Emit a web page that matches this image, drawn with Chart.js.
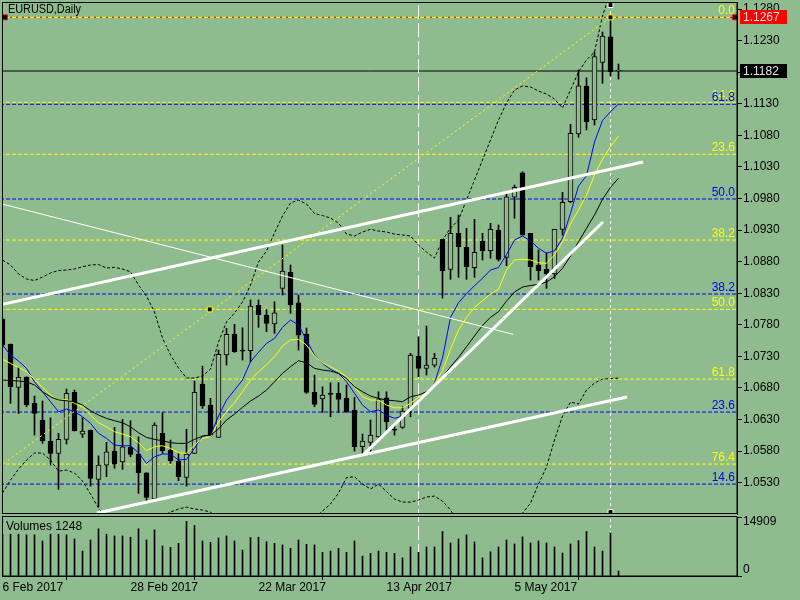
<!DOCTYPE html>
<html>
<head>
<meta charset="utf-8">
<title>EURUSD,Daily</title>
<script src="https://cdn.jsdelivr.net/npm/chart.js@4.4.1/dist/chart.umd.min.js"></script>
<style>
    html, body { margin: 0; padding: 0; background: #8fbc8f; }
    body { width: 800px; height: 600px; position: relative; overflow: hidden; }
    canvas { position: absolute; left: 0; }
    #price-chart { top: 0; width: 800px; height: 516px; }
    #volume-chart { top: 516px; width: 800px; height: 84px; }
</style>
</head>
<body>
<canvas id="price-chart" width="800" height="516"></canvas>
<canvas id="volume-chart" width="800" height="84"></canvas>
<script>
'use strict';

// Daily bars, index 0 = 6 Feb 2017 (one bar per trading day)
const opens = [
    1.07892, 1.07496, 1.06810, 1.06968, 1.06556, 1.06292, 1.05959, 1.05764, 1.05986, 1.06731,
    1.06070, 1.06134, 1.05353, 1.05579, 1.05801, 1.05631, 1.05860, 1.05753, 1.05457, 1.05041,
    1.06081, 1.05817, 1.05642, 1.05384, 1.05764, 1.06862, 1.06530, 1.06018, 1.07322, 1.07649,
    1.07401, 1.07390, 1.08109, 1.07955, 1.07813, 1.08378, 1.08632, 1.08150, 1.07654, 1.06731,
    1.06625, 1.06720, 1.06715, 1.06636, 1.06450, 1.05869, 1.05939, 1.06027, 1.06645, 1.06134,
    1.06176, 1.06477, 1.07306, 1.07111, 1.07163, 1.09154, 1.08679, 1.09249, 1.09028, 1.08704,
    1.09127, 1.08974, 1.09302, 1.08869, 1.09820, 1.10209, 1.09249, 1.08747, 1.08679, 1.08605,
    1.09313, 1.09750, 1.10822, 1.11582, 1.11044, 1.11958, 1.12363, 1.11820
];
const highs = [
    1.07908, 1.07496, 1.07127, 1.06978, 1.06672, 1.06593, 1.06328, 1.06081, 1.06783, 1.06767,
    1.06328, 1.06134, 1.05726, 1.05939, 1.06176, 1.06303, 1.06281, 1.06027, 1.05457, 1.06249,
    1.06408, 1.05975, 1.05764, 1.06145, 1.06910, 1.07147, 1.06636, 1.07401, 1.07744, 1.07808,
    1.07754, 1.08193, 1.08193, 1.08045, 1.08166, 1.09064, 1.08747, 1.08272, 1.07749, 1.07005,
    1.06819, 1.06883, 1.06883, 1.06846, 1.06652, 1.06070, 1.06292, 1.06740, 1.06740, 1.06240,
    1.06503, 1.07348, 1.07611, 1.07781, 1.07348, 1.09154, 1.09503, 1.09539, 1.09328, 1.09471,
    1.09249, 1.09408, 1.09381, 1.09883, 1.10014, 1.10225, 1.09249, 1.08985, 1.08942, 1.09313,
    1.09899, 1.10976, 1.11836, 1.11714, 1.12126, 1.12438, 1.12670, 1.11931
];
const lows = [
    1.07448, 1.06556, 1.06398, 1.06503, 1.06054, 1.05923, 1.05579, 1.05194, 1.05912, 1.06118,
    1.06018, 1.05246, 1.04919, 1.05394, 1.05527, 1.05511, 1.05711, 1.05131, 1.04998, 1.05025,
    1.05764, 1.05606, 1.05330, 1.05246, 1.05764, 1.06477, 1.06031, 1.06015, 1.07163, 1.07364,
    1.07242, 1.07215, 1.07760, 1.07691, 1.07665, 1.08272, 1.07982, 1.07401, 1.06715, 1.06503,
    1.06414, 1.06344, 1.06414, 1.06414, 1.05801, 1.05737, 1.05764, 1.06018, 1.06134, 1.06054,
    1.06160, 1.06344, 1.06978, 1.07005, 1.07132, 1.08224, 1.08521, 1.08552, 1.08521, 1.08552,
    1.08826, 1.08853, 1.08811, 1.08736, 1.09487, 1.09222, 1.08510, 1.08510, 1.08378, 1.08536,
    1.09222, 1.09734, 1.10770, 1.10886, 1.10965, 1.11625, 1.11741, 1.11693
];
const closes = [
    1.07480, 1.06819, 1.06968, 1.06530, 1.06398, 1.05964, 1.05764, 1.05986, 1.06715, 1.06122,
    1.06118, 1.05368, 1.05579, 1.05790, 1.05595, 1.05869, 1.05749, 1.05457, 1.05068, 1.06213,
    1.05806, 1.05647, 1.05394, 1.05753, 1.06731, 1.06514, 1.06054, 1.07333, 1.07649, 1.07374,
    1.07385, 1.08098, 1.07960, 1.07824, 1.07992, 1.08652, 1.08114, 1.07638, 1.06731, 1.06541,
    1.06688, 1.06700, 1.06620, 1.06423, 1.05869, 1.05959, 1.06054, 1.06620, 1.06265, 1.06130,
    1.06434, 1.07322, 1.07111, 1.07163, 1.07269, 1.08657, 1.09249, 1.09037, 1.08720, 1.08948,
    1.08974, 1.09313, 1.08837, 1.09829, 1.09978, 1.09222, 1.08720, 1.08657, 1.08605, 1.09313,
    1.09740, 1.10833, 1.11587, 1.11017, 1.12047, 1.12375, 1.11809, 1.11820
];
const volumes = [
    10500, 10562, 10562, 10391, 10391, 8859, 10562, 10562, 10391, 9370,
    6306, 9114, 11923, 10562, 10135, 10135, 9796, 11923, 9114, 11667,
    7582, 7243, 8264, 13794, 12773, 8859, 8519, 9625, 10135, 8859,
    6561, 9709, 9796, 8688, 8264, 7838, 6987, 9114, 8009, 7838,
    5966, 6306, 6987, 5966, 8859, 5029, 5711, 6306, 5966, 5711,
    4604, 7327, 5966, 7327, 7327, 11242, 8349, 9370, 10391, 8604,
    4604, 6136, 7327, 9114, 8093, 9880, 8349, 8859, 8349, 7327,
    5795, 8093, 8944, 11242, 7327, 6306, 10902, 1248
];

// Indicator lines
const maBlue = [
    1.07480, 1.07322, 1.07227, 1.07111, 1.06899, 1.06741, 1.06582, 1.06424, 1.06466, 1.06424,
    1.06345, 1.06240, 1.06082, 1.06002, 1.05896, 1.05885, 1.05885, 1.05774, 1.05606, 1.05711,
    1.05754, 1.05754, 1.05659, 1.05670, 1.05844, 1.06039, 1.06055, 1.06356, 1.06609, 1.06767,
    1.06926, 1.07216, 1.07365, 1.07507, 1.07586, 1.07761, 1.07876, 1.07797, 1.07559, 1.07322,
    1.07190, 1.07095, 1.07032, 1.06899, 1.06715, 1.06530, 1.06424, 1.06451, 1.06371, 1.06319,
    1.06356, 1.06478, 1.06620, 1.06704, 1.06878, 1.07274, 1.07919, 1.08150, 1.08293, 1.08420,
    1.08537, 1.08668, 1.08708, 1.08914, 1.09143, 1.09207, 1.09128, 1.09012, 1.08933, 1.08974,
    1.09170, 1.09566, 1.09999, 1.10162, 1.10696, 1.11036, 1.11176, 1.11298
];
const maYellow = [
    1.07254, 1.07190, 1.07127, 1.07057, 1.06937, 1.06810, 1.06688, 1.06598, 1.06620, 1.06557,
    1.06503, 1.06371, 1.06249, 1.06186, 1.06107, 1.06070, 1.06028, 1.05933, 1.05806, 1.05869,
    1.05885, 1.05844, 1.05774, 1.05765, 1.05896, 1.06002, 1.06028, 1.06261, 1.06424, 1.06566,
    1.06741, 1.06926, 1.07057, 1.07163, 1.07295, 1.07464, 1.07559, 1.07571, 1.07480, 1.07306,
    1.07200, 1.07137, 1.07068, 1.06978, 1.06820, 1.06661, 1.06609, 1.06609, 1.06530, 1.06487,
    1.06487, 1.06557, 1.06652, 1.06715, 1.06870, 1.07073, 1.07412, 1.07718, 1.07919, 1.08077,
    1.08182, 1.08288, 1.08363, 1.08668, 1.08827, 1.08839, 1.08827, 1.08784, 1.08774, 1.08906,
    1.09116, 1.09397, 1.09619, 1.09856, 1.10173, 1.10426, 1.10621, 1.10791
];
const maBlack = [
    1.06926, 1.06921, 1.06910, 1.06899, 1.06847, 1.06741, 1.06661, 1.06609, 1.06598, 1.06582,
    1.06530, 1.06440, 1.06371, 1.06319, 1.06281, 1.06249, 1.06186, 1.06091, 1.06018, 1.05986,
    1.05964, 1.05933, 1.05923, 1.05923, 1.05986, 1.06039, 1.06055, 1.06150, 1.06292, 1.06387,
    1.06493, 1.06593, 1.06672, 1.06767, 1.06899, 1.07032, 1.07137, 1.07232, 1.07200, 1.07111,
    1.07084, 1.07068, 1.07032, 1.06953, 1.06820, 1.06741, 1.06672, 1.06636, 1.06609, 1.06598,
    1.06582, 1.06661, 1.06688, 1.06741, 1.06815, 1.06968, 1.07137, 1.07285, 1.07453, 1.07623,
    1.07792, 1.07919, 1.08008, 1.08177, 1.08320, 1.08399, 1.08423, 1.08440, 1.08478, 1.08562,
    1.08695, 1.08890, 1.09116, 1.09329, 1.09539, 1.09788, 1.09978, 1.10121
];
const bandUpper = [
    1.08827, 1.08748, 1.08605, 1.08526, 1.08502, 1.08557, 1.08621, 1.08661, 1.08668, 1.08684,
    1.08720, 1.08748, 1.08755, 1.08700, 1.08710, 1.08684, 1.08641, 1.08431, 1.08256, 1.08003,
    1.07591, 1.07322, 1.07116, 1.06958, 1.06958, 1.06989, 1.07100, 1.07528, 1.07845, 1.07987,
    1.08161, 1.08431, 1.08795, 1.08969, 1.09254, 1.09524, 1.09729, 1.09777, 1.09714, 1.09563,
    1.09531, 1.09492, 1.09412, 1.09238, 1.09207, 1.09270, 1.09313, 1.09286, 1.09270, 1.09238,
    1.09223, 1.09207, 1.09064, 1.08953, 1.08858, 1.09143, 1.09333, 1.09460, 1.09777, 1.10094,
    1.10410, 1.10727, 1.11044, 1.11313, 1.11519, 1.11583, 1.11567, 1.11503, 1.11456, 1.11377,
    1.11234, 1.11519, 1.11805, 1.11995, 1.12121, 1.12692, 1.13072, 1.13103
];
const bandLower = [
    1.05136, 1.05341, 1.05516, 1.05659, 1.05770, 1.05770, 1.05659, 1.05484, 1.05500, 1.05453,
    1.05326, 1.05120, 1.04898, 1.04740, 1.04629, 1.04550, 1.04518, 1.04550, 1.04629, 1.04708,
    1.04772, 1.04835, 1.04883, 1.04914, 1.04883, 1.04867, 1.04835, 1.04708, 1.04550, 1.04391,
    1.04312, 1.04233, 1.04233, 1.04312, 1.04391, 1.04470, 1.04550, 1.04629, 1.04708, 1.04740,
    1.04851, 1.04962, 1.05136, 1.05381, 1.05394, 1.05279, 1.05200, 1.05279, 1.05160, 1.05041,
    1.04993, 1.04993, 1.05025, 1.05073, 1.05088, 1.05009, 1.04867, 1.04677, 1.04550, 1.04470,
    1.04439, 1.04439, 1.04470, 1.04550, 1.04677, 1.04819, 1.04977, 1.05279, 1.05548, 1.05976,
    1.06355, 1.06577, 1.06546, 1.06767, 1.06878, 1.06941, 1.06949, 1.06957
];

// Axis ticks
const xTickBars = [0, 16, 32, 48, 64];
const xTickLabels = ['6 Feb 2017', '28 Feb 2017', '22 Mar 2017', '13 Apr 2017', '5 May 2017'];
const yTickValues = [
    1.0530, 1.0580, 1.0630, 1.0680, 1.0730, 1.0780, 1.0830, 1.0880,
    1.0930, 1.0980, 1.1030, 1.1080, 1.1130, 1.1180, 1.1230, 1.1280
];
const volumeTicks = [0, 14909];

// Fibonacci levels (two retracements)
const fibYellowLevels = ['0.0', '14.6', '23.6', '38.2', '50.0', '61.8', '76.4'];
const fibYellowPrices = [1.1267, 1.11324, 1.10501, 1.09143, 1.08045, 1.06941, 1.05595];
const fibBlueLevels = ['14.6', '23.6', '38.2', '50.0', '61.8'];
const fibBluePrices = [1.05278, 1.06419, 1.08288, 1.09793, 1.11293];

const bidPrice = 1.1182;
const highPrice = 1.1267;

// Trend lines as [bar, price] end points
const trendUpper = [[-0.1, 1.08121], [80.06, 1.10379]];
const trendFalling = [[-0.03, 1.09713], [63.85, 1.07649]];
const trendSupport = [[45.06, 1.05737], [75.06, 1.09428]];
const trendLower = [[11.81, 1.04819], [78.06, 1.06656]];
const fibDiagonal = [[-23.5, 1.0340], [76, 1.1267]];
const verticalBars = [52, 76];

// Object handles
const yellowHandles = [[25.9, 1.08045], [76, 1.1267]];
const whiteHandles = [[76, 1.12865], [76, 1.04835]];
const redHandles = [[0.3, 1.1267], [91.55, 1.1267]];

// Visible range: bars are 8px apart
const xMin = -0.0625;
const xMax = 91.8125;
const priceMin = 1.048043;
const priceMax = 1.129129;

const bgGreen = '#8fbc8f';

Chart.defaults.font.family = "'Liberation Sans', Arial, sans-serif";
Chart.defaults.font.size = 12;
Chart.defaults.color = '#000';

/**
 * Map [bar, value] pairs to chart points
 */
function toXY(pairs) {
    return pairs.map(p => ({ x: p[0], y: p[1] }));
}

/**
 * Line dataset helper
 */
function lineSet(points, color, width, dash, order, extra) {
    return Object.assign({
        type: 'line',
        data: points,
        borderColor: color,
        borderWidth: width,
        borderDash: dash || [],
        pointRadius: 0,
        pointHoverRadius: 0,
        fill: false,
        tension: 0,
        clip: 0,
        order: order
    }, extra || {});
}

function seriesLine(values, color, dash, order) {
    return lineSet(values.map((v, i) => ({ x: i, y: v })), color, 1, dash, order);
}

function levelLine(price, color, dash, order, extra) {
    return lineSet(toXY([[xMin - 1, price], [xMax + 1, price]]), color, 1, dash, order, extra);
}

function handleSet(pairs, color) {
    return {
        type: 'line',
        data: toXY(pairs),
        showLine: false,
        pointStyle: 'rect',
        pointRadius: 3.5,
        pointHoverRadius: 3.5,
        pointBackgroundColor: '#000',
        pointBorderColor: color,
        pointBorderWidth: 1,
        clip: 0,
        order: 0
    };
}

// Keep axis labels from pushing the plot area inwards
function fixedWidth(width) {
    return scale => {
        scale.width = width;
        scale.paddingTop = 0;
        scale.paddingBottom = 0;
    };
}

function fixedHeight(height) {
    return scale => {
        scale.height = height;
        scale.paddingLeft = 0;
        scale.paddingRight = 0;
    };
}

/**
 * Frame, title, fibo labels and price tags
 */
const priceOverlay = {
    id: 'priceOverlay',
    afterDraw(chart) {
        const ctx = chart.ctx;
        const area = chart.chartArea;
        const yScale = chart.scales.y;

        ctx.save();
        ctx.strokeStyle = '#000';
        ctx.lineWidth = 1;
        ctx.strokeRect(area.left + 0.5, area.top + 0.5, area.right - area.left - 0.5, area.bottom - area.top - 1);

        ctx.font = "12px 'Liberation Sans', Arial, sans-serif";
        ctx.fillStyle = '#000';
        ctx.textAlign = 'left';
        ctx.textBaseline = 'top';
        ctx.fillText('EURUSD,Daily', area.left + 6, area.top + 2, 73);

        drawLevelLabels(ctx, area, yScale, fibYellowLevels, fibYellowPrices, '#ffff00');
        drawLevelLabels(ctx, area, yScale, fibBlueLevels, fibBluePrices, '#0000ff');

        drawPriceTag(ctx, area, yScale, highPrice, '#ff0000');
        drawPriceTag(ctx, area, yScale, bidPrice, '#000000');
        ctx.restore();
    }
};

function drawLevelLabels(ctx, area, yScale, levels, prices, color) {
    ctx.fillStyle = color;
    ctx.textAlign = 'right';
    ctx.textBaseline = 'alphabetic';
    prices.forEach((p, i) => {
        const py = yScale.getPixelForValue(p);
        ctx.fillText(levels[i], area.right - 2, py - 3);
    });
}

function drawPriceTag(ctx, area, yScale, price, fill) {
    const py = Math.round(yScale.getPixelForValue(price));
    ctx.fillStyle = fill;
    ctx.fillRect(area.right + 3, py - 7, 47, 14);
    ctx.fillStyle = '#e6e6e6';
    ctx.textAlign = 'left';
    ctx.textBaseline = 'middle';
    ctx.fillText(price.toFixed(4), area.right + 6, py + 1);
}

/**
 * Frame and labels of the volume window
 */
const volumeOverlay = {
    id: 'volumeOverlay',
    afterDraw(chart) {
        const ctx = chart.ctx;
        const area = chart.chartArea;
        const yScale = chart.scales.y;

        ctx.save();
        ctx.strokeStyle = '#000';
        ctx.lineWidth = 1;
        ctx.strokeRect(area.left + 0.5, 0.5, area.right - area.left - 0.5, area.bottom - 0.5);

        ctx.font = "12px 'Liberation Sans', Arial, sans-serif";
        ctx.fillStyle = '#000';
        ctx.textAlign = 'left';
        ctx.textBaseline = 'top';
        ctx.fillText('Volumes ' + volumes[volumes.length - 1], area.left + 4, 5);

        ctx.fillText(String(volumeTicks[1]), area.right + 6, yScale.getPixelForValue(volumeTicks[1]) - 1);
        ctx.textBaseline = 'alphabetic';
        ctx.fillText(String(volumeTicks[0]), area.right + 6, yScale.getPixelForValue(volumeTicks[0]) - 3);
        ctx.restore();
    }
};

function initPriceChart() {
    const canvas = document.getElementById('price-chart');

    const wicks = {
        type: 'bar',
        data: highs.map((h, i) => ({ x: i, y: [lows[i], h] })),
        backgroundColor: '#000',
        borderWidth: 0,
        barThickness: 1,
        grouped: false,
        clip: 0,
        order: 4
    };

    const bodies = {
        type: 'bar',
        data: opens.map((o, i) => ({ x: i, y: [o, closes[i]] })),
        backgroundColor: opens.map((o, i) => closes[i] >= o ? bgGreen : '#000'),
        borderColor: '#000',
        borderWidth: 1,
        borderSkipped: false,
        barThickness: 5,
        minBarLength: 1,
        grouped: false,
        clip: 0,
        order: 3
    };

    const datasets = [
        handleSet(yellowHandles, '#ffff00'),
        handleSet(whiteHandles, '#ffffff'),
        handleSet(redHandles, '#ff0000'),

        lineSet(toXY(trendUpper), '#ffffff', 3, [], 1),
        lineSet(toXY(trendFalling), '#ffffff', 1, [], 1),
        lineSet(toXY(trendSupport), '#ffffff', 3, [], 1),
        lineSet(toXY(trendLower), '#ffffff', 3, [], 1),
        lineSet(toXY(fibDiagonal), '#ffff00', 1, [2, 3], 1),

        seriesLine(maBlack, '#000000', [], 2),
        seriesLine(maYellow, '#ffff00', [], 2),
        seriesLine(maBlue, '#0000ff', [], 2),
        seriesLine(bandUpper, '#000000', [3, 2], 2),
        seriesLine(bandLower, '#000000', [3, 2], 2),

        bodies,
        wicks,

        lineSet(toXY([[verticalBars[0], priceMin - 0.01], [verticalBars[0], priceMax + 0.01]]), '#ffffff', 1, [14, 4], 6),
        lineSet(toXY([[verticalBars[1], whiteHandles[1][1]], [verticalBars[1], whiteHandles[0][1]]]), '#ffffff', 1, [3, 3], 6),
        levelLine(bidPrice, '#000000', [], 6)
    ];

    fibYellowPrices.forEach(p => datasets.push(levelLine(p, '#ffff00', [4, 2], 7)));
    fibBluePrices.forEach(p => datasets.push(levelLine(p, '#0000ff', [4, 2], 7)));
    datasets.push(levelLine(highPrice, '#ff0000', [2, 4], 6, { borderDashOffset: 2 }));

    new Chart(canvas, {
        type: 'bar',
        data: { datasets: datasets },
        options: {
            responsive: false,
            animation: false,
            devicePixelRatio: 1,
            events: [],
            layout: { autoPadding: false, padding: { left: 2, top: 2, right: 0, bottom: 2 } },
            plugins: { legend: { display: false }, tooltip: { enabled: false } },
            scales: {
                x: {
                    type: 'linear',
                    display: false,
                    min: xMin,
                    max: xMax,
                    offset: false
                },
                y: {
                    type: 'linear',
                    position: 'right',
                    min: priceMin,
                    max: priceMax,
                    beginAtZero: false,
                    afterFit: fixedWidth(63),
                    afterBuildTicks: scale => { scale.ticks = yTickValues.map(v => ({ value: v })); },
                    grid: { drawOnChartArea: false, drawTicks: true, tickLength: 5, color: '#000' },
                    border: { display: true, color: '#000' },
                    ticks: { color: '#000', padding: 1, callback: v => v.toFixed(4) }
                }
            }
        },
        plugins: [priceOverlay]
    });
}

function initVolumeChart() {
    const canvas = document.getElementById('volume-chart');
    const volMax = volumeTicks[1];

    new Chart(canvas, {
        type: 'bar',
        data: {
            datasets: [
                {
                    type: 'bar',
                    data: volumes.map((v, i) => ({ x: i, y: v })),
                    backgroundColor: '#000',
                    borderWidth: 0,
                    barThickness: 1,
                    grouped: false,
                    clip: 0,
                    order: 0
                },
                lineSet(toXY([[verticalBars[0], 0], [verticalBars[0], volMax]]), '#ffffff', 1, [14, 4], 1),
                lineSet(toXY([[verticalBars[1], 0], [verticalBars[1], volMax]]), '#ffffff', 1, [3, 3], 1)
            ]
        },
        options: {
            responsive: false,
            animation: false,
            devicePixelRatio: 1,
            events: [],
            layout: { autoPadding: false, padding: { left: 2, top: 1, right: 0, bottom: 0 } },
            plugins: { legend: { display: false }, tooltip: { enabled: false } },
            scales: {
                x: {
                    type: 'linear',
                    position: 'bottom',
                    min: xMin,
                    max: xMax,
                    offset: false,
                    afterFit: fixedHeight(24),
                    afterBuildTicks: scale => { scale.ticks = xTickBars.map(v => ({ value: v })); },
                    grid: { drawOnChartArea: false, drawTicks: true, tickLength: 4, color: '#000' },
                    border: { display: true, color: '#000' },
                    ticks: {
                        color: '#000',
                        align: 'start',
                        padding: 0,
                        autoSkip: false,
                        maxRotation: 0,
                        minRotation: 0,
                        callback: (value, index) => xTickLabels[index]
                    }
                },
                y: {
                    type: 'linear',
                    position: 'right',
                    min: 0,
                    max: volMax,
                    beginAtZero: false,
                    afterFit: fixedWidth(63),
                    afterBuildTicks: scale => { scale.ticks = volumeTicks.map(v => ({ value: v })); },
                    grid: { drawOnChartArea: false, drawTicks: true, tickLength: 5, color: '#000' },
                    border: { display: true, color: '#000' },
                    ticks: { display: false }
                }
            }
        },
        plugins: [volumeOverlay]
    });
}

initPriceChart();
initVolumeChart();
</script>
</body>
</html>
